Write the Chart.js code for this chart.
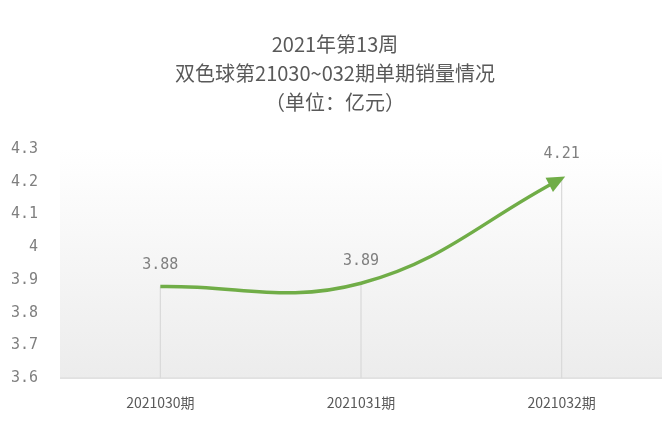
<!DOCTYPE html>
<html><head><meta charset="utf-8">
<script src="https://cdn.jsdelivr.net/npm/chart.js@4"></script>
<style>html,body{margin:0;padding:0;background:#fff}#w{width:662px;height:427px}</style>
</head><body><div id="w"><canvas id="c"></canvas></div>
<script>
const categories = ["2021030期","2021031期","2021032期"];
const sales = [3.88, 3.89, 4.21];
const titleLines = ["2021年第13周","双色球第21030~032期单期销量情况","（单位：亿元）"];

const deco = {
  id:'deco',
  beforeDatasetsDraw(chart){
    const {ctx, chartArea:a} = chart;
    const g = ctx.createLinearGradient(0,a.top,0,a.bottom);
    g.addColorStop(0,'#ffffff'); g.addColorStop(1,'#ececec');
    ctx.save(); ctx.fillStyle=g; ctx.fillRect(a.left,a.top,a.right-a.left,a.bottom-a.top);
    const meta = chart.getDatasetMeta(0);
    ctx.strokeStyle='#d9d9d9'; ctx.lineWidth=1.2;
    meta.data.forEach(p=>{ctx.beginPath();ctx.moveTo(p.x,p.y);ctx.lineTo(p.x,a.bottom);ctx.stroke();});
    ctx.beginPath(); ctx.moveTo(a.left,a.bottom); ctx.lineTo(a.right,a.bottom); ctx.stroke();
    ctx.restore();
  },
  afterDatasetsDraw(chart){
    const {ctx} = chart;
    const pts = chart.getDatasetMeta(0).data;
    const last = pts[pts.length-1];
    const ang = Math.atan2(last.y-last.cp1y, last.x-last.cp1x);
    ctx.save(); ctx.fillStyle='#70ad47';
    ctx.translate(last.x,last.y); ctx.rotate(ang);
    ctx.beginPath(); ctx.moveTo(4,0); ctx.lineTo(-14,-8); ctx.lineTo(-14,8); ctx.closePath(); ctx.fill();
    ctx.restore();
    ctx.save(); ctx.fillStyle='#7f7f7f'; ctx.font='15px "DejaVu Sans Mono"'; ctx.textAlign='center';
    pts.forEach((p,i)=>{ctx.fillText(sales[i].toFixed(2), p.x, (i==2?p.y-20:p.y-18));});
    ctx.restore();
  }
};

new Chart(document.getElementById('c'),{
  type:'line',
  data:{labels:categories,datasets:[{data:sales,borderColor:'#70ad47',borderWidth:3.5,tension:0.4,pointRadius:0,fill:false,clip:false}]},
  options:{
    responsive:true,maintainAspectRatio:false,animation:false,
    layout:{padding:{left:8,right:0,top:0,bottom:8}},
    plugins:{legend:{display:false},tooltip:{enabled:false},
      title:{display:true,text:titleLines,color:'#595959',font:{size:20,family:'"Noto Sans CJK SC"',weight:'normal',lineHeight:1.45},padding:{top:30,bottom:32}}},
    scales:{
      x:{offset:true,grid:{display:false},border:{display:false},ticks:{color:'#595959',font:{size:14,family:'"Noto Sans CJK SC"'},padding:8}},
      y:{min:3.6,max:4.3,grid:{display:false},border:{display:false},
        afterFit(s){s.width=52;},
        ticks:{stepSize:0.1,color:'#7f7f7f',font:{size:15,family:'"DejaVu Sans Mono"'},padding:14,
          callback:v=>{const r=Math.round(v*10)/10;return r===4?'4':r.toFixed(1);}}}
    }
  },
  plugins:[deco]
});
</script></body></html>
